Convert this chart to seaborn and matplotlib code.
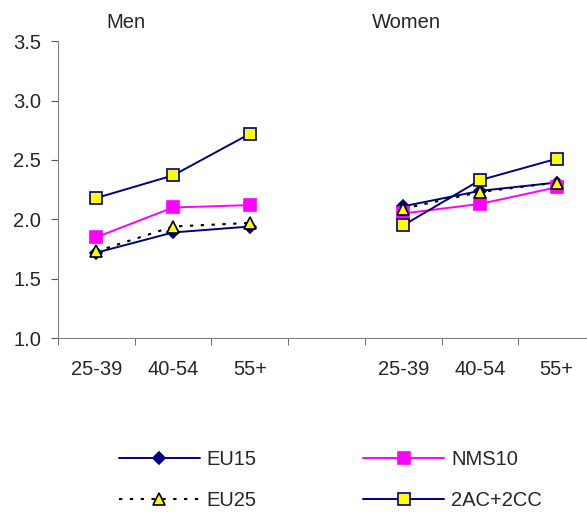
import matplotlib
matplotlib.use("Agg")
import matplotlib.pyplot as plt
import seaborn as sns
import pandas as pd
from matplotlib.lines import Line2D

sns.set_style("white")
plt.rcParams['font.family'] = ['Liberation Sans', 'DejaVu Sans']

categories = ["25-39", "40-54", "55+", "", "25-39", "40-54", "55+"]
groups = ["Men", "Women"]
series = ["EU15", "NMS10", "EU25", "2AC+2CC"]

men_eu15 = [1.72, 1.89, 1.94]
men_nms10 = [1.85, 2.10, 2.12]
men_eu25 = [1.73, 1.94, 1.97]
men_2ac = [2.18, 2.37, 2.72]

women_eu15 = [2.11, 2.24, 2.31]
women_nms10 = [2.05, 2.13, 2.27]
women_eu25 = [2.09, 2.23, 2.31]
women_2ac = [1.95, 2.33, 2.51]

values = {
    "EU15": (men_eu15, women_eu15),
    "NMS10": (men_nms10, women_nms10),
    "EU25": (men_eu25, women_eu25),
    "2AC+2CC": (men_2ac, women_2ac),
}

styles = {
    "EU15": dict(color="#000080", ls="-", marker="D", mfc="#000080", mec="#000080", ms=6, lw=1.4),
    "NMS10": dict(color="#FF00FF", ls="-", marker="s", mfc="#FF00FF", mec="#FF00FF", ms=9, lw=1.4),
    "EU25": dict(color="black", ls=(0, (1.6, 3.6)), marker="^", mfc="#FFFF00", mec="black", ms=9, lw=1.5),
    "2AC+2CC": dict(color="#000080", ls="-", marker="s", mfc="#FFFF00", mec="#000080", ms=9, lw=1.4),
}

rows = []
for s in series:
    m, w = values[s]
    for i, v in enumerate(m):
        rows.append(dict(series=s, group="Men", x=i, value=v))
    for i, v in enumerate(w):
        rows.append(dict(series=s, group="Women", x=i + 4, value=v))
df = pd.DataFrame(rows)

fig = plt.figure(figsize=(5.87, 5.14), dpi=100)
ax = fig.add_axes([0.0988, 0.342, 0.915, 0.578])

for s in ["EU15", "NMS10", "EU25", "2AC+2CC"]:
    st = styles[s]
    for g in groups:
        d = df[(df.series == s) & (df.group == g)]
        sns.lineplot(data=d, x="x", y="value", ax=ax, color=st["color"],
                     linestyle=st["ls"], linewidth=st["lw"], marker=st["marker"],
                     markerfacecolor=st["mfc"], markeredgecolor=st["mec"],
                     markersize=st["ms"], markeredgewidth=1.2, legend=False)

FS = 14.5
ax.set_xlim(-0.5, 6.5)
ax.set_ylim(1.0, 3.5)
ax.set_yticks([1.0, 1.5, 2.0, 2.5, 3.0, 3.5])
ax.set_yticklabels(["1.0", "1.5", "2.0", "2.5", "3.0", "3.5"], fontsize=FS)
ax.set_xticks(range(7))
ax.set_xticklabels(categories, fontsize=FS)
ax.set_xticks([i - 0.5 for i in range(8)], minor=True)
ax.tick_params(axis="x", which="major", length=0, pad=16)
ax.tick_params(axis="x", which="minor", length=5, direction="out", color="#555555", bottom=True)
ax.tick_params(axis="y", which="major", length=5, direction="out", color="#555555", left=True, pad=7)
ax.set_xlabel("")
ax.set_ylabel("")
for sp in ["top", "right"]:
    ax.spines[sp].set_visible(False)
ax.spines["left"].set_color("#808080")
ax.spines["bottom"].set_color("#808080")
ax.grid(False)

fig.text(126 / 587, 1 - 23 / 514, "Men", fontsize=FS, ha="center", va="center")
fig.text(406 / 587, 1 - 23 / 514, "Women", fontsize=FS, ha="center", va="center")

handles = []
for s in ["EU15", "EU25", "NMS10", "2AC+2CC"]:
    st = styles[s]
    ms = st["ms"] - 1 if s != "EU15" else st["ms"]
    handles.append(Line2D([], [], color=st["color"], linestyle=st["ls"], linewidth=st["lw"],
                          marker=st["marker"], markerfacecolor=st["mfc"],
                          markeredgecolor=st["mec"], markersize=ms, markeredgewidth=1.2))
fig.legend(handles, ["EU15", "EU25", "NMS10", "2AC+2CC"], ncol=2, frameon=False,
           loc="center", bbox_to_anchor=(0.563, 1 - 480 / 514), fontsize=FS,
           handlelength=4.0, columnspacing=5.3, labelspacing=1.1, handletextpad=0.35)

fig.savefig("out.png", dpi=100)
